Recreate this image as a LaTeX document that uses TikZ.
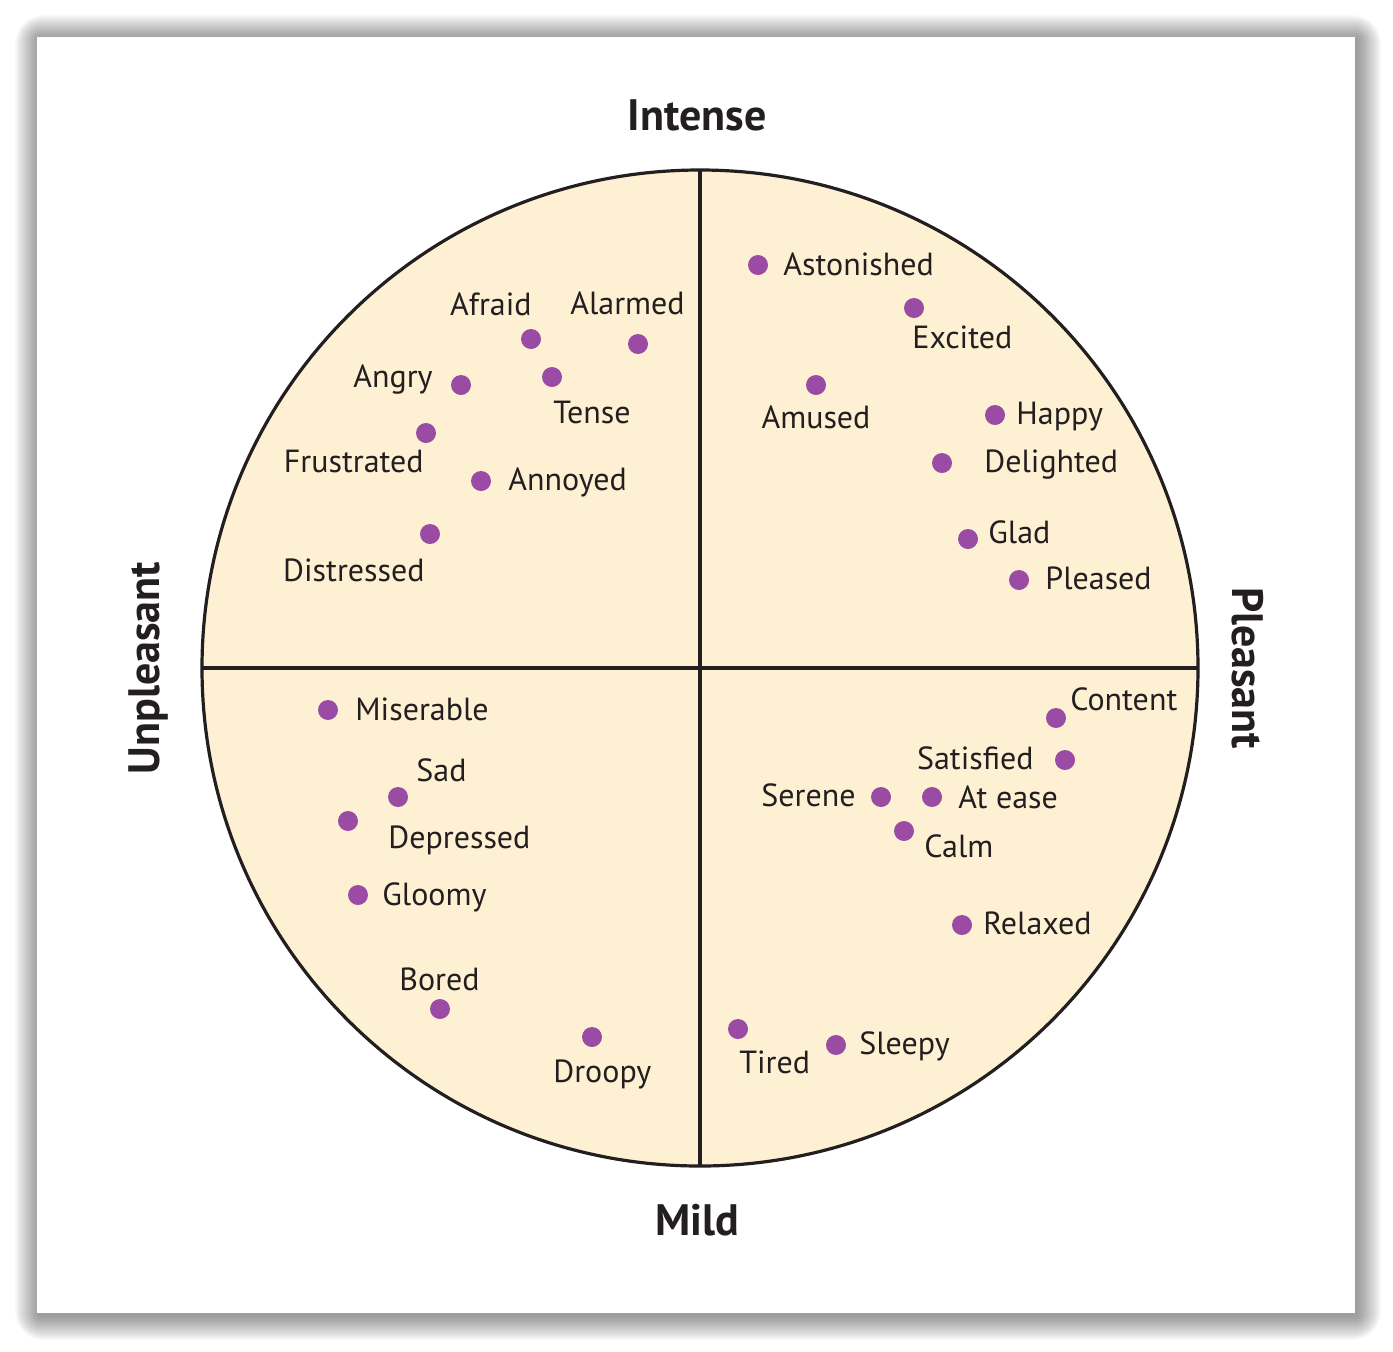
\documentclass[tikz,border=0pt]{standalone}
\usepackage{fontspec}
\setmainfont{PT Sans}
\definecolor{cream}{HTML}{FEF1D3}
\definecolor{dotc}{HTML}{9A4CA4}
\definecolor{ink}{HTML}{231F20}
\begin{document}
\begin{tikzpicture}[x=0.5pt,y=-0.5pt,
  dot/.style={circle,fill=dotc,inner sep=0pt,minimum size=10pt},
  lbl/.style={inner sep=0pt,text=ink,yshift=-2.7pt,font=\fontsize{16}{19}\selectfont},
  axislbl/.style={inner sep=0pt,text=ink,font=\fontsize{22}{26}\selectfont\bfseries},
  rim/.style={draw=ink,line width=1.6pt}]
\useasboundingbox (0,0) rectangle (1393,1351);
% shadow
\foreach \e in {1,...,24}{
  \fill[black,opacity=0.018,rounded corners=\e*0.6pt] (37-\e+2,37-\e+2) rectangle (1355+\e+2,1313+\e+3);
}
\fill[white] (37,37) rectangle (1355,1313);
% circle
\fill[cream] (700,668) circle[radius=498];
\coordinate (top) at (700,170);
\coordinate (bot) at (700,1166);
\coordinate (lft) at (202,668);
\coordinate (rgt) at (1198,668);
\draw[rim] (top) -- (bot);
\draw[rim] (lft) -- (rgt);
\draw[rim] (700,668) circle[radius=498];
% axis labels
\node[axislbl] (intense) at (697,115) {Intense};
\node[axislbl] (mild) at (697,1220) {Mild};
\node[axislbl,rotate=90] (unpl) at (148,668) {Unpleasant};
\node[axislbl,rotate=-90] (pleas) at (1248,668) {Pleasant};
% upper right
\node[dot] (d1) at (758,265) {}; \node[lbl,anchor=mid west] (l1) at (783,265) {Astonished};
\node[dot] (d2) at (914,308) {}; \node[lbl,anchor=mid west] (l2) at (912,338) {Excited};
\node[dot] (d3) at (816,385) {}; \node[lbl,anchor=mid] (l3) at (816,418) {Amused};
\node[dot] (d4) at (995,415) {}; \node[lbl,anchor=mid west] (l4) at (1016,414) {Happy};
\node[dot] (d5) at (942,463) {}; \node[lbl,anchor=mid west] (l5) at (984,462) {Delighted};
\node[dot] (d6) at (968,539) {}; \node[lbl,anchor=mid west] (l6) at (988,533) {Glad};
\node[dot] (d7) at (1019,580) {}; \node[lbl,anchor=mid west] (l7) at (1045,579) {Pleased};
% upper left
\node[dot] (d8) at (531,339) {}; \node[lbl,anchor=mid east] (l8) at (532,305) {Afraid};
\node[dot] (d9) at (638,344) {}; \node[lbl,anchor=mid east] (l9) at (685,304) {Alarmed};
\node[dot] (d10) at (461,385) {}; \node[lbl,anchor=mid east] (l10) at (433,377) {Angry};
\node[dot] (d11) at (552,377) {}; \node[lbl,anchor=mid west] (l11) at (553,413) {Tense};
\node[dot] (d12) at (426,433) {}; \node[lbl,anchor=mid east] (l12) at (424,462) {Frustrated};
\node[dot] (d13) at (481,481) {}; \node[lbl,anchor=mid west] (l13) at (508,480) {Annoyed};
\node[dot] (d14) at (430,534) {}; \node[lbl,anchor=mid east] (l14) at (425,571) {Distressed};
% lower left
\node[dot] (d15) at (328,710) {}; \node[lbl,anchor=mid west] (l15) at (355,710) {Miserable};
\node[dot] (d16) at (398,797) {}; \node[lbl,anchor=mid west] (l16) at (416,771) {Sad};
\node[dot] (d17) at (348,821) {}; \node[lbl,anchor=mid west] (l17) at (388,838) {Depressed};
\node[dot] (d18) at (358,895) {}; \node[lbl,anchor=mid west] (l18) at (382,895) {Gloomy};
\node[dot] (d19) at (440,1009) {}; \node[lbl,anchor=mid west] (l19) at (399,980) {Bored};
\node[dot] (d20) at (592,1037) {}; \node[lbl,anchor=mid west] (l20) at (553,1072) {Droopy};
% lower right
\node[dot] (d21) at (1056,718) {}; \node[lbl,anchor=mid west] (l21) at (1070,700) {Content};
\node[dot] (d22) at (1065,760) {}; \node[lbl,anchor=mid east] (l22) at (1034,759) {Satisfied};
\node[dot] (d23) at (881,797) {}; \node[lbl,anchor=mid east] (l23) at (856,796) {Serene};
\node[dot] (d24) at (932,797) {}; \node[lbl,anchor=mid west] (l24) at (958,798) {At ease};
\node[dot] (d25) at (904,831) {}; \node[lbl,anchor=mid west] (l25) at (924,847) {Calm};
\node[dot] (d26) at (962,925) {}; \node[lbl,anchor=mid west] (l26) at (983,924) {Relaxed};
\node[dot] (d27) at (738,1029) {}; \node[lbl,anchor=mid west] (l27) at (739,1063) {Tired};
\node[dot] (d28) at (836,1045) {}; \node[lbl,anchor=mid west] (l28) at (859,1044) {Sleepy};
\end{tikzpicture}
\end{document}
